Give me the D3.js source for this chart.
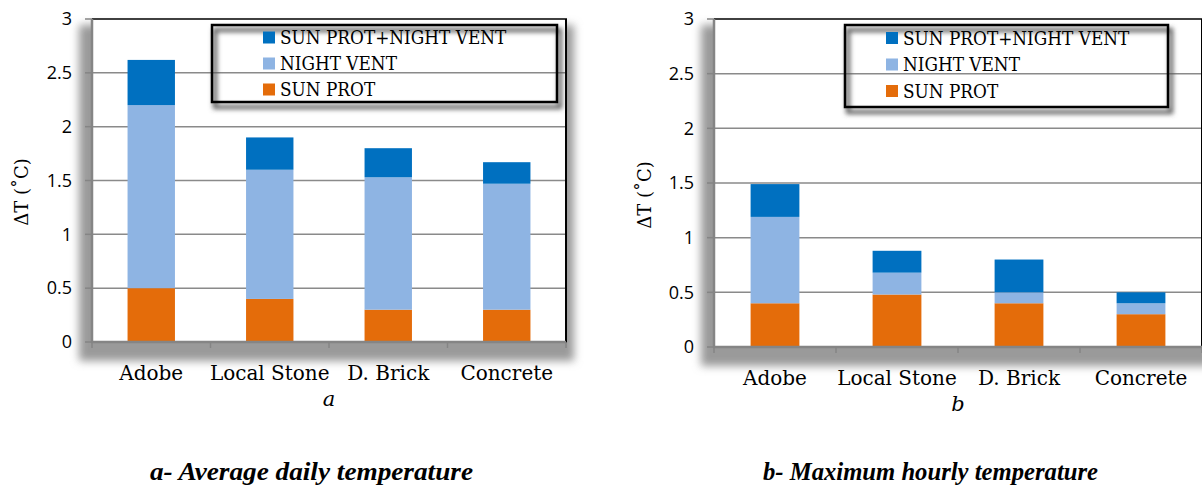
<!DOCTYPE html>
<html>
<head>
<meta charset="UTF-8">
<style>
  body { margin: 0; background: #fff; }
  svg { display: block; }
  .tick-num { font-family: 'Open Sans', sans-serif; font-size: 18px; fill: #000; }
  .cat { font-family: 'DejaVu Serif', serif; font-size: 20px; fill: #000; }
  .leg { font-family: 'DejaVu Serif Condensed', 'DejaVu Serif', serif; font-size: 18.8px; fill: #000; }
  .ylab { font-family: 'DejaVu Serif', serif; font-size: 18px; fill: #000; }
  .sub { font-family: 'DejaVu Serif', serif; font-style: italic; font-size: 21px; fill: #000; }
  .caption { font-family: 'Liberation Serif', serif; font-style: italic; font-weight: bold; font-size: 26px; fill: #000; }
</style>
</head>
<body>
<svg id="chart" width="1202" height="491"></svg>
<script src="https://cdn.jsdelivr.net/npm/d3@7"></script>
<script>
// categories and series
const categories = ["Adobe", "Local Stone", "D. Brick", "Concrete"];
const seriesNames = ["SUN PROT", "NIGHT VENT", "SUN PROT+NIGHT VENT"];
const seriesColors = ["#E46C0A", "#8EB4E3", "#0070C0"];

// a - average daily temperature (stacked segments)
const avgSunProt   = [0.5, 0.4, 0.3, 0.3];
const avgNightVent = [1.7, 1.2, 1.23, 1.17];
const avgBoth      = [0.42, 0.3, 0.27, 0.2];

// b - maximum hourly temperature (stacked segments)
const maxSunProt   = [0.4, 0.48, 0.4, 0.3];
const maxNightVent = [0.79, 0.2, 0.1, 0.1];
const maxBoth      = [0.3, 0.2, 0.3, 0.1];

const yTicks = [0, 0.5, 1, 1.5, 2, 2.5, 3];

const svg = d3.select("#chart");
const defs = svg.append("defs");

defs.append("filter").attr("id", "plotShadow")
  .attr("x", "-10%").attr("y", "-10%").attr("width", "120%").attr("height", "130%")
  .append("feGaussianBlur").attr("stdDeviation", 4);

defs.append("filter").attr("id", "legShadow")
  .attr("x", "-10%").attr("y", "-20%").attr("width", "120%").attr("height", "150%")
  .append("feGaussianBlur").attr("stdDeviation", 2.5);

function makeRows(a, b, c) {
  return categories.map((cat, i) => ({
    cat: cat,
    "SUN PROT": a[i],
    "NIGHT VENT": b[i],
    "SUN PROT+NIGHT VENT": c[i]
  }));
}

function drawChart(p) {
  const g = svg.append("g");
  const x = d3.scaleBand().domain(categories).range([p.x0, p.x1]).padding(0);
  const y = d3.scaleLinear().domain([0, 3]).range([p.y1, p.y0]);
  const barW = x.bandwidth() * 0.4;

  // 3d-ish shadow behind plot area
  g.append("rect")
    .attr("x", p.x0 - 13).attr("y", p.y0 + 6)
    .attr("width", p.x1 - p.x0 + 21).attr("height", p.y1 - p.y0 + 13)
    .attr("fill", "#9a9a9a")
    .attr("filter", "url(#plotShadow)");
  g.append("rect")
    .attr("x", p.x0).attr("y", p.y0)
    .attr("width", p.x1 - p.x0).attr("height", p.y1 - p.y0)
    .attr("fill", "#fff");

  // gridlines
  g.selectAll(".grid").data(yTicks.filter(d => d > 0 && d < 3)).enter()
    .append("line")
    .attr("x1", p.x0).attr("x2", p.x1)
    .attr("y1", d => y(d)).attr("y2", d => y(d))
    .attr("stroke", "#8a8a8a").attr("stroke-width", 1.5);

  // top + right border
  g.append("line").attr("x1", p.x0).attr("x2", p.x1 + 1)
    .attr("y1", p.y0).attr("y2", p.y0)
    .attr("stroke", "#000").attr("stroke-width", 1.5);
  g.append("line").attr("x1", p.x1).attr("x2", p.x1)
    .attr("y1", p.y0).attr("y2", p.y1 + 1)
    .attr("stroke", "#000").attr("stroke-width", 2);

  // stacked bars
  const stacked = d3.stack().keys(seriesNames)(p.rows);
  g.selectAll(".series").data(stacked).enter()
    .append("g")
    .attr("fill", (d, i) => seriesColors[i])
    .selectAll("rect").data(d => d).enter()
    .append("rect")
    .attr("x", d => x(d.data.cat) + x.bandwidth() / 2 - barW / 2)
    .attr("width", barW)
    .attr("y", d => y(d[1]))
    .attr("height", d => y(d[0]) - y(d[1]));

  // axes
  g.append("line").attr("x1", p.x0).attr("x2", p.x0)
    .attr("y1", p.y0).attr("y2", p.y1 + 1)
    .attr("stroke", "#858585").attr("stroke-width", 2.5);
  g.append("line").attr("x1", p.x0 - 1).attr("x2", p.x1)
    .attr("y1", p.y1).attr("y2", p.y1)
    .attr("stroke", "#858585").attr("stroke-width", 2.5);

  g.selectAll(".ytick").data(yTicks).enter()
    .append("line")
    .attr("x1", p.x0 - 7).attr("x2", p.x0)
    .attr("y1", d => y(d)).attr("y2", d => y(d))
    .attr("stroke", "#858585").attr("stroke-width", 1.5);

  const bounds = categories.map(c => x(c)).concat([p.x1]);
  g.selectAll(".xtick").data(bounds).enter()
    .append("line")
    .attr("x1", d => d).attr("x2", d => d)
    .attr("y1", p.y1).attr("y2", p.y1 + 6)
    .attr("stroke", "#858585").attr("stroke-width", 1.5);

  g.selectAll(".ylabel").data(yTicks).enter()
    .append("text").attr("class", "tick-num")
    .attr("x", p.x0 - 20).attr("y", d => y(d))
    .attr("dy", "0.35em").attr("text-anchor", "end")
    .text(d => d);

  g.selectAll(".catlab").data(categories).enter()
    .append("text").attr("class", "cat")
    .attr("x", d => x(d) + x.bandwidth() / 2)
    .attr("y", p.y1 + 38).attr("text-anchor", "middle")
    .text(d => d);

  g.append("text").attr("class", "sub")
    .attr("x", (p.x0 + p.x1) / 2)
    .attr("y", p.y1 + 64).attr("text-anchor", "middle")
    .text(p.sub);

  g.append("text").attr("class", "ylab")
    .attr("transform", `translate(${p.yLabX},${p.yLabY}) rotate(-90)`)
    .attr("dy", "0.35em").attr("text-anchor", "middle")
    .text("ΔT (˚C)");

  // legend (no fill: gridlines show through)
  const L = p.legend;
  g.append("rect")
    .attr("x", L.x + 3).attr("y", L.y + 5)
    .attr("width", L.w).attr("height", L.h)
    .attr("fill", "none").attr("stroke", "#555").attr("stroke-width", 4)
    .attr("filter", "url(#legShadow)");
  g.append("rect")
    .attr("x", L.x).attr("y", L.y)
    .attr("width", L.w).attr("height", L.h)
    .attr("fill", "none").attr("stroke", "#000").attr("stroke-width", 2.5);

  const order = seriesNames.slice().reverse();
  const li = g.selectAll(".legitem").data(order).enter()
    .append("g")
    .attr("transform", (d, i) => `translate(${L.sx},${L.y + L.first + i * L.step})`);
  li.append("rect")
    .attr("x", 0).attr("y", -6).attr("width", 12).attr("height", 12)
    .attr("fill", d => seriesColors[seriesNames.indexOf(d)]);
  li.append("text").attr("class", "leg")
    .attr("x", 17).attr("y", 0).attr("dy", "0.36em")
    .text(d => d);
}

drawChart({
  rows: makeRows(avgSunProt, avgNightVent, avgBoth),
  x0: 92, x1: 566, y0: 19, y1: 342,
  sub: "a", yLabX: 22, yLabY: 192,
  legend: { x: 212, y: 25, w: 345, h: 77, sx: 263, first: 12.5, step: 26 }
});

drawChart({
  rows: makeRows(maxSunProt, maxNightVent, maxBoth),
  x0: 714, x1: 1202, y0: 19, y1: 347,
  sub: "b", yLabX: 645, yLabY: 195,
  legend: { x: 845, y: 25, w: 323, h: 82, sx: 886, first: 13, step: 26.5 }
});

// captions below the two panels
const captions = [
  { text: "a- Average daily temperature", cx: 311.5, len: 323 },
  { text: "b- Maximum hourly temperature", cx: 930.5, len: 335 }
];
svg.selectAll(".caption").data(captions).enter()
  .append("text").attr("class", "caption")
  .attr("x", d => d.cx - d.len / 2).attr("y", 480)
  .attr("textLength", d => d.len).attr("lengthAdjust", "spacingAndGlyphs")
  .text(d => d.text);
</script>
</body>
</html>
